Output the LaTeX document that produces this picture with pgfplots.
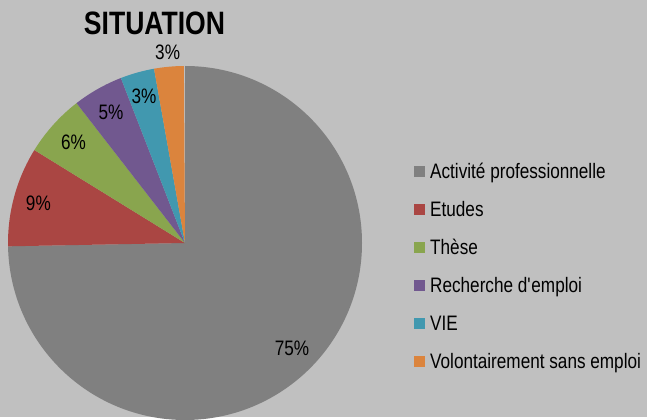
\documentclass[border=0pt]{standalone}
\usepackage{fontspec}
\setmainfont{Liberation Sans}[FakeStretch=0.82]
\usepackage{pgfplots}
\usepackage{pgfplotstable}
\pgfplotsset{compat=1.18}
\definecolor{bgc}{RGB}{192,192,192}
\definecolor{cA}{RGB}{128,128,128}
\definecolor{cB}{RGB}{170,70,67}
\definecolor{cC}{RGB}{137,165,78}
\definecolor{cD}{RGB}{113,88,143}
\definecolor{cE}{RGB}{65,152,175}
\definecolor{cF}{RGB}{219,132,61}

\pgfplotstableread{
value col lr
74.7 cA 150
9.1 cB 152
5.7 cC 150
4.6 cD 150
3.1 cE 152
2.7 cF 191
}\piedata

\begin{document}
\begin{tikzpicture}
\begin{axis}[
 scale only axis, width=647bp, height=417bp,
 xmin=0,xmax=647,ymin=0,ymax=417,
 hide axis, clip=false,
 legend style={at={(axis cs:414,253)}, anchor=north west, draw=none, fill=none, inner sep=0pt, row sep=20bp,
   font=\fontsize{21}{22}\selectfont,
   nodes={inner sep=0pt, text height=14bp, text depth=4bp, anchor=west}, column sep=5bp},
 legend image code/.code={\fill[#1] (0bp,-3.5bp) rectangle (11bp,7.5bp);},
 legend cell align=left,
]
\fill[bgc] (axis cs:0,0) rectangle (axis cs:647,417);
\pgfmathsetmacro\cur{90}
\pgfplotsforeachungrouped \i in {0,...,5}{%
 \pgfplotstablegetelem{\i}{value}\of\piedata \let\v\pgfplotsretval
 \pgfplotstablegetelem{\i}{col}\of\piedata \let\c\pgfplotsretval
 \pgfplotstablegetelem{\i}{lr}\of\piedata \let\r\pgfplotsretval
 \pgfmathsetmacro\nxt{\cur-3.6*\v}%
 \pgfmathsetmacro\mid{(\cur+\nxt)/2}%
 \pgfmathtruncatemacro\p{round(\v)}%
 \edef\cmd{\noexpand\fill[\c] (axis cs:185,174) -- ++(\cur:177bp) arc[start angle=\cur, end angle=\nxt, radius=177bp] -- cycle;
 \noexpand\path (axis cs:185,174) ++(\mid:\r bp) node[font=\noexpand\fontsize{21}{22}\noexpand\selectfont, text=black] {\p\noexpand\%};}%
 \cmd
 \global\let\cur\nxt
}
\node[anchor=base, font=\fontsize{32.5}{33}\selectfont\bfseries] at (axis cs:154.5,382) {SITUATION};
\addlegendimage{fill=cA, draw=none}
\addlegendentry{Activité professionnelle}
\addlegendimage{fill=cB, draw=none}
\addlegendentry{Etudes}
\addlegendimage{fill=cC, draw=none}
\addlegendentry{Thèse}
\addlegendimage{fill=cD, draw=none}
\addlegendentry{Recherche d\textquotesingle emploi}
\addlegendimage{fill=cE, draw=none}
\addlegendentry{VIE}
\addlegendimage{fill=cF, draw=none}
\addlegendentry{Volontairement sans emploi}
\end{axis}
\end{tikzpicture}
\end{document}
